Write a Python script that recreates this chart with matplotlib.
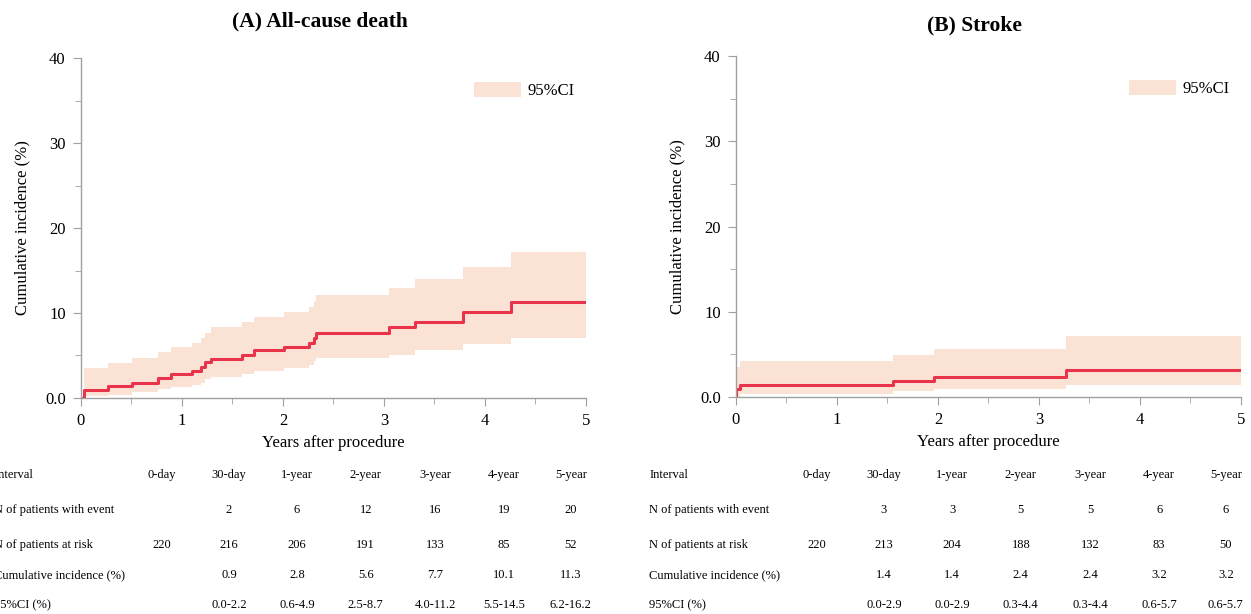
import matplotlib
matplotlib.use("Agg")
import matplotlib.pyplot as plt
from matplotlib.ticker import MultipleLocator
from matplotlib.transforms import blended_transform_factory

plt.rcParams['font.family'] = ['Liberation Serif', 'DejaVu Serif']

# (A) all-cause death
a_times = [0, 0.03, 0.27, 0.51, 0.76, 0.89, 1.10, 1.19, 1.23, 1.29, 1.59, 1.71,
           2.01, 2.26, 2.31, 2.33, 3.05, 3.31, 3.78, 4.26, 5.0]
a_inc = [0, 0.9, 1.4, 1.8, 2.3, 2.8, 3.2, 3.7, 4.2, 4.6, 5.1, 5.6,
         6.0, 6.5, 7.1, 7.7, 8.3, 9.0, 10.1, 11.3, 11.3]
a_upper = [3.5, 3.5, 4.1, 4.7, 5.4, 6.0, 6.5, 7.1, 7.7, 8.3, 8.9, 9.5,
           10.1, 10.7, 11.4, 12.1, 13.0, 14.0, 15.4, 17.2, 17.2]
a_lower = [0.2, 0.2, 0.4, 0.7, 1.0, 1.25, 1.5, 1.8, 2.2, 2.5, 2.8, 3.2,
           3.5, 3.9, 4.3, 4.7, 5.1, 5.7, 6.4, 7.1, 7.1]

# (B) stroke
b_times = [0, 0, 0.04, 1.55, 1.96, 3.27, 5.0]
b_inc = [0, 0.9, 1.4, 1.9, 2.4, 3.2, 3.2]
b_upper = [3.5, 3.5, 4.2, 4.9, 5.6, 7.1, 7.1]
b_lower = [0.0, 0.0, 0.4, 0.7, 0.95, 1.4, 1.4]

y_ticks = [0, 10, 20, 30, 40]
y_labels = ['0.0', '10', '20', '30', '40']

intervals = ['0-day', '30-day', '1-year', '2-year', '3-year', '4-year', '5-year']
row_names = ['Interval', 'N of patients with event', 'N of patients at risk',
             'Cumulative incidence (%)', '95%CI (%)']
a_event = ['', '2', '6', '12', '16', '19', '20']
a_risk = ['220', '216', '206', '191', '133', '85', '52']
a_cum = ['', '0.9', '2.8', '5.6', '7.7', '10.1', '11.3']
a_ci = ['', '0.0-2.2', '0.6-4.9', '2.5-8.7', '4.0-11.2', '5.5-14.5', '6.2-16.2']
b_event = ['', '3', '3', '5', '5', '6', '6']
b_risk = ['220', '213', '204', '188', '132', '83', '50']
b_cum = ['', '1.4', '1.4', '2.4', '2.4', '3.2', '3.2']
b_ci = ['', '0.0-2.9', '0.0-2.9', '0.3-4.4', '0.3-4.4', '0.6-5.7', '0.6-5.7']

red = '#e8334a'
band = '#fae3d5'
grey = '#a0a0a0'

fig = plt.figure(figsize=(12.51, 6.14), dpi=100)
ax_a = fig.add_axes([0.0647, 0.3518, 0.4037, 0.5537])
ax_b = fig.add_axes([0.5883, 0.3534, 0.4037, 0.5554])

col_x = [0.160, 0.293, 0.428, 0.564, 0.701, 0.838, 0.970]
row_y = [0.2264, 0.1694, 0.1124, 0.0635, 0.0147]


def draw_panel(ax, times, inc, upper, lower, rows, bstart):
    ax.fill_between(times[bstart:], lower[bstart:], upper[bstart:], step='post',
                    color=band, linewidth=0, label='95%CI')
    ax.step(times, inc, where='post', color=red, lw=2.2)
    ax.set_xlim(0, 5)
    ax.set_ylim(0, 40)
    ax.xaxis.set_major_locator(MultipleLocator(1))
    ax.xaxis.set_minor_locator(MultipleLocator(0.5))
    ax.set_yticks(y_ticks, y_labels)
    ax.yaxis.set_minor_locator(MultipleLocator(5))
    for s in ['top', 'right']:
        ax.spines[s].set_visible(False)
    for s in ['left', 'bottom']:
        ax.spines[s].set_color(grey)
        ax.spines[s].set_linewidth(1.0)
    ax.tick_params(which='major', length=6, color=grey, labelsize=12, pad=5)
    ax.tick_params(which='minor', length=4, color=grey)
    ax.set_xlabel('Years after procedure', fontsize=12, labelpad=4)
    ax.set_ylabel('Cumulative incidence (%)', fontsize=12)
    ax.yaxis.set_label_coords(-0.10, 0.5)
    ax.legend(loc='upper right', bbox_to_anchor=(0.978, 0.93), frameon=False,
              fontsize=12, handlelength=2.8, handleheight=1.0,
              borderaxespad=0, borderpad=0, handletextpad=0.4)

    tr = blended_transform_factory(ax.transAxes, fig.transFigure)
    for name, vals, y in zip(row_names, rows, row_y):
        ax.text(-0.172, y, name, transform=tr, fontsize=9, ha='left', va='center')
        for x, v in zip(col_x, vals):
            ax.text(x, y, v, transform=tr, fontsize=9, ha='center', va='center')


draw_panel(ax_a, a_times, a_inc, a_upper, a_lower,
           [intervals, a_event, a_risk, a_cum, a_ci], 1)
draw_panel(ax_b, b_times, b_inc, b_upper, b_lower,
           [intervals, b_event, b_risk, b_cum, b_ci], 0)

fig.text(0.256, 0.965, '(A) All-cause death', fontsize=15.5, fontweight='bold',
         ha='center', va='center')
fig.text(0.779, 0.958, '(B) Stroke', fontsize=15.5, fontweight='bold',
         ha='center', va='center')

fig.savefig('out.png', dpi=100)
